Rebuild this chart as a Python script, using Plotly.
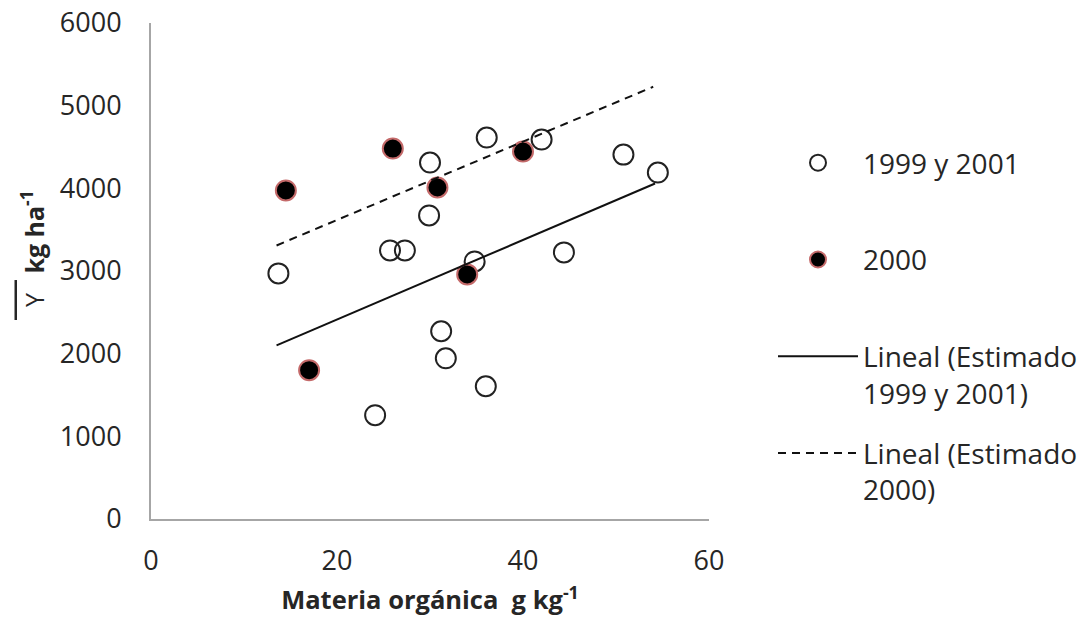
import plotly.graph_objects as go

# Data
x_9901 = [13.7, 30.0, 36.1, 42.0, 50.8, 54.5, 29.9, 25.7, 27.3, 34.8, 44.4, 31.2, 31.7, 36.0, 24.1]
y_9901 = [2971, 4312, 4614, 4590, 4408, 4191, 3672, 3249, 3249, 3116, 3225, 2271, 1944, 1606, 1256]

x_2000 = [14.5, 26.0, 30.8, 40.0, 34.0, 17.0]
y_2000 = [3974, 4481, 4010, 4445, 2959, 1800]

trend_9901_x = [13.5, 54.2]
trend_9901_y = [2101, 4058]
trend_2000_x = [13.5, 54.0]
trend_2000_y = [3309, 5229]

x_ticks = [0, 20, 40, 60]
y_ticks = [0, 1000, 2000, 3000, 4000, 5000, 6000]

FONT = "Open Sans"
TXT = "#262626"
NB = "\u00a0"

fig = go.Figure()
fig.add_trace(go.Scatter(
    x=x_9901, y=y_9901, mode="markers", name="1999 y 2001<br>" + NB,
    legendgroup="a",
    marker=dict(symbol="circle-open", size=20, color="#222222", line=dict(width=2, color="#222222")),
))
fig.add_trace(go.Scatter(
    x=x_2000, y=y_2000, mode="markers", name="2000<br>" + NB,
    legendgroup="b",
    marker=dict(symbol="circle", size=20, color="#000000", line=dict(width=2, color="#c46a6a")),
))
fig.add_trace(go.Scatter(
    x=trend_9901_x, y=trend_9901_y, mode="lines", name="Lineal (Estimado<br>1999 y 2001)",
    legendgroup="c",
    line=dict(color="#111111", width=2),
))
fig.add_trace(go.Scatter(
    x=trend_2000_x, y=trend_2000_y, mode="lines", name="Lineal (Estimado<br>2000)",
    legendgroup="d",
    line=dict(color="#111111", width=2, dash="8px,6px"),
))

fig.update_layout(
    width=1078, height=627,
    margin=dict(l=151, r=369, t=23, b=108),
    paper_bgcolor="white", plot_bgcolor="white",
    font=dict(family=FONT, size=27, color=TXT),
    showlegend=True,
    legend=dict(
        xref="container", yref="container",
        x=773 / 1078, xanchor="left", y=1 - 138 / 627, yanchor="top",
        font=dict(family=FONT, size=28, color=TXT),
        traceorder="grouped", tracegroupgap=21, valign="top",
        itemwidth=80, maxheight=600,
        bgcolor="rgba(0,0,0,0)",
    ),
    xaxis=dict(
        range=[0, 60], tickvals=x_ticks, showgrid=False, zeroline=False,
        showline=True, linecolor="#a6a6a6", linewidth=2,
        ticks="", ticklabelstandoff=17, automargin=False,
        tickfont=dict(family=FONT, size=27, color=TXT),
        title=dict(text="<b>Materia orgánica  g kg<sup>-1</sup></b>",
                   font=dict(family=FONT, size=25.5, color=TXT), standoff=14),
    ),
    yaxis=dict(
        range=[0, 6000], tickvals=y_ticks, showgrid=False, zeroline=False,
        showline=True, linecolor="#a6a6a6", linewidth=2,
        ticks="", ticklabelstandoff=22, automargin=False,
        tickfont=dict(family=FONT, size=27, color=TXT),
    ),
    annotations=[dict(
        xref="paper", yref="paper",
        x=(32 - 151) / 558, y=(519 - 255) / 496,
        xanchor="center", yanchor="middle", textangle=-90, showarrow=False,
        text="<span style='text-decoration:overline'>" + NB * 2 + "Y" + NB * 2 + "</span>" + NB
             + "<b>kg ha<sup>-1</sup></b>",
        font=dict(family=FONT, size=25, color=TXT),
    )],
)

fig.write_html("out.html")
